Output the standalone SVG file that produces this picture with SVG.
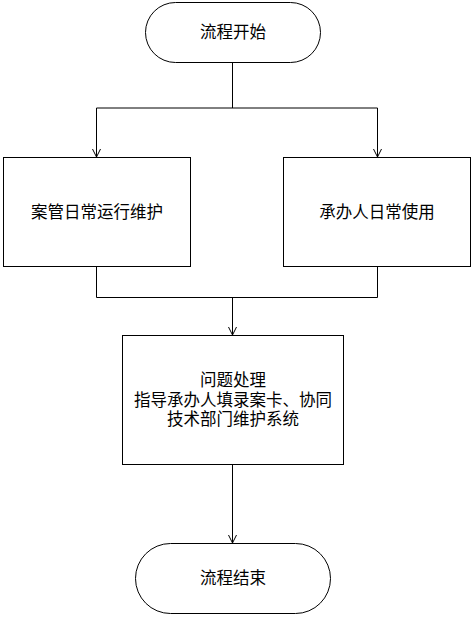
<svg xmlns="http://www.w3.org/2000/svg" width="475" height="618" viewBox="0 0 475 618">
<style>
.n{fill:#fff;stroke:#000;stroke-width:1}
.t{font-family:"Liberation Sans","Noto Sans CJK SC",sans-serif;font-size:16.5px;fill:#000;text-anchor:middle;dominant-baseline:central}
.c{fill:none;stroke:#000;stroke-width:1}
</style>
<defs>
<marker id="a" markerWidth="10" markerHeight="10" refX="9" refY="5" orient="auto" markerUnits="userSpaceOnUse">
<path d="M1,1 L9,5 L1,9" fill="none" stroke="#000" stroke-width="1"/>
</marker>
</defs>
<rect width="475" height="618" fill="#fff"/>
<g id="connectors">
<path class="c" d="M232.5,62 V108"/>
<path class="c" d="M96.5,108 H377.5"/>
<path class="c" d="M96.5,108 V157" marker-end="url(#a)"/>
<path class="c" d="M377.5,108 V157" marker-end="url(#a)"/>
<path class="c" d="M96.5,266 V297.5 H377.5 V266"/>
<path class="c" d="M232.5,297.5 V335" marker-end="url(#a)"/>
<path class="c" d="M232.5,464 V543" marker-end="url(#a)"/>
</g>
<g id="start">
<rect class="n" x="145.5" y="2.5" width="175" height="60" rx="30" ry="30"/>
<text class="t" x="233" y="32">流程开始</text>
</g>
<g id="left">
<rect class="n" x="3.5" y="157.5" width="187" height="109"/>
<text class="t" x="97" y="212">案管日常运行维护</text>
</g>
<g id="right">
<rect class="n" x="283.5" y="157.5" width="187" height="109"/>
<text class="t" x="377" y="212">承办人日常使用</text>
</g>
<g id="process">
<rect class="n" x="122.5" y="335.5" width="221" height="129"/>
<text class="t" x="233" y="380">问题处理</text>
<text class="t" x="233" y="400">指导承办人填录案卡、协同</text>
<text class="t" x="233" y="419">技术部门维护系统</text>
</g>
<g id="end">
<rect class="n" x="135.5" y="543.5" width="195" height="70" rx="35" ry="35"/>
<text class="t" x="233" y="578">流程结束</text>
</g>
</svg>
